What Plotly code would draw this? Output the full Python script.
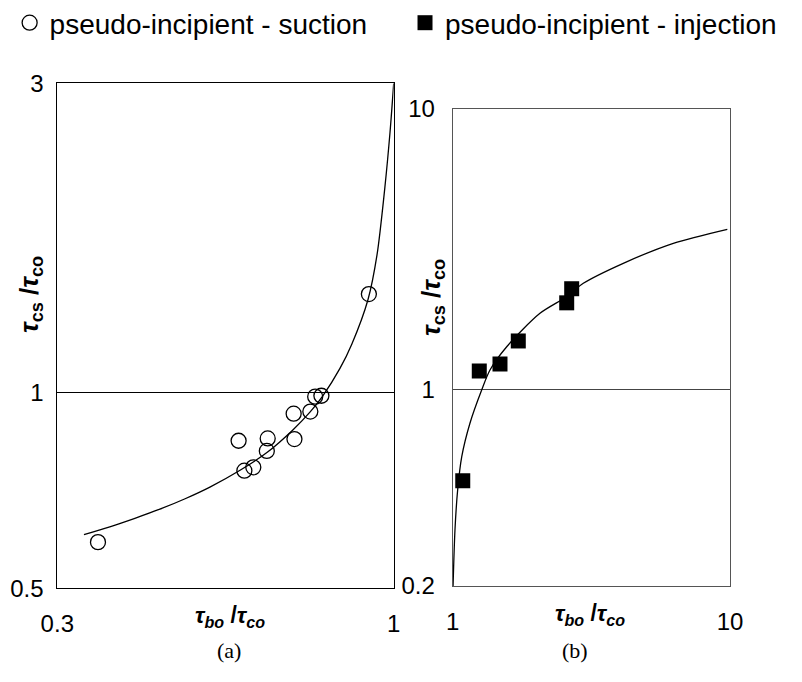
import plotly.graph_objects as go

# Panel (a): suction data
suction_x = [0.347, 0.574, 0.586, 0.605, 0.635, 0.637, 0.699, 0.701, 0.742, 0.755, 0.772, 0.915]
suction_y = [0.589, 0.844, 0.759, 0.768, 0.814, 0.851, 0.929, 0.849, 0.936, 0.987, 0.990, 1.42]
# Panel (a): fitted curve
curve_a_x = [0.330, 0.362, 0.396, 0.433, 0.474, 0.518, 0.577, 0.636, 0.697, 0.741, 0.776,
             0.825, 0.861, 0.912, 0.942, 0.969, 0.987, 1.0]
curve_a_y = [0.605, 0.622, 0.641, 0.662, 0.687, 0.716, 0.760, 0.810, 0.877, 0.934, 0.990,
             1.091, 1.190, 1.392, 1.632, 2.076, 2.524, 3.0]

# Panel (b): injection data
injection_x = [1.087, 1.247, 1.481, 1.724, 2.577, 2.686]
injection_y = [0.474, 1.166, 1.235, 1.492, 2.04, 2.29]
# Panel (b): fitted curve
curve_b_x = [1.003, 1.019, 1.042, 1.078, 1.154, 1.272, 1.363, 1.566, 2.064, 2.577, 2.958, 4.122, 6.246, 9.78]
curve_b_y = [0.2, 0.3165, 0.4394, 0.578, 0.760, 0.998, 1.176, 1.423, 1.872, 2.145, 2.394, 2.821, 3.324, 3.729]

a_xticks = [0.3, 1]
a_yticks = [0.5, 1, 3]
b_xticks = [1, 10]
b_yticks = [0.2, 1, 10]

W, H = 802, 682
fig = go.Figure()

fig.add_trace(go.Scatter(x=curve_a_x, y=curve_a_y, mode="lines", line=dict(color="black", width=1.3, shape="spline", smoothing=0.8),
                         showlegend=False, xaxis="x", yaxis="y", hoverinfo="skip"))
fig.add_trace(go.Scatter(x=suction_x, y=suction_y, mode="markers", name="pseudo-incipient - suction",
                         marker=dict(symbol="circle-open", size=15, color="black", line=dict(width=1.3)),
                         xaxis="x", yaxis="y", legend="legend"))
fig.add_trace(go.Scatter(x=curve_b_x, y=curve_b_y, mode="lines", line=dict(color="black", width=1.3, shape="spline", smoothing=0.8),
                         showlegend=False, xaxis="x2", yaxis="y2", hoverinfo="skip"))
fig.add_trace(go.Scatter(x=injection_x, y=injection_y, mode="markers", name="pseudo-incipient - injection",
                         marker=dict(symbol="square", size=15, color="black"),
                         xaxis="x2", yaxis="y2", legend="legend2"))

tickfont = dict(family="Liberation Sans, Arial, sans-serif", size=24, color="black")
common = dict(type="log", showline=True, mirror=True, ticks="", zeroline=False, tickfont=tickfont)

legfont = dict(family="Liberation Sans, Arial, sans-serif", size=28, color="black")
fig.update_layout(
    width=W, height=H,
    margin=dict(l=0, r=0, t=0, b=0, autoexpand=False),
    paper_bgcolor="white", plot_bgcolor="white",
    xaxis=dict(domain=[57.3 / W, 393.7 / W], range=[-0.5229, 0], tickvals=a_xticks, ticktext=["0.3", "1"],
               showgrid=False, linecolor="black", linewidth=1, anchor="y", ticklabelstandoff=14, **common),
    yaxis=dict(domain=[1 - 588.3 / H, 1 - 83.3 / H], range=[-0.30103, 0.47712], tickvals=a_yticks, ticktext=["0.5", "1", "3"],
               showgrid=True, gridcolor="black", gridwidth=1, linecolor="black", linewidth=1, anchor="x",
               ticklabelstandoff=8, **common),
    xaxis2=dict(domain=[452.7 / W, 730 / W], range=[0, 1], tickvals=b_xticks, ticktext=["1", "10"],
                showgrid=False, linecolor="#555", linewidth=1, anchor="y2", ticklabelstandoff=14, **common),
    yaxis2=dict(domain=[1 - 586 / H, 1 - 109 / H], range=[-0.69897, 1], tickvals=b_yticks, ticktext=["0.2", "1", "10"],
                showgrid=True, gridcolor="#444", gridwidth=1, linecolor="#555", linewidth=1, anchor="x2",
                ticklabelstandoff=12, **common),
    legend=dict(x=0.012, y=1 - 23 / H, xanchor="left", yanchor="middle", orientation="h",
                font=legfont, bgcolor="rgba(0,0,0,0)", itemwidth=30),
    legend2=dict(x=0.505, y=1 - 23 / H, xanchor="left", yanchor="middle", orientation="h",
                 font=legfont, bgcolor="rgba(0,0,0,0)", itemwidth=30),
    showlegend=True,
)

ytitle_font = dict(family="Liberation Sans, Arial, sans-serif", size=26, color="black")
xtitle_font = dict(family="Liberation Sans, Arial, sans-serif", size=23, color="black")
yt = "<b><i>τ</i><sub>cs</sub> /<i>τ</i><sub>co</sub></b>"
xt = "<b><i>τ<sub>bo</sub></i> /<i>τ<sub>co</sub></i></b>"
ann = [
    dict(text=yt, x=30 / W, y=1 - 295 / H, textangle=-90, font=ytitle_font),
    dict(text=yt, x=432 / W, y=1 - 298 / H, textangle=-90, font=ytitle_font),
    dict(text=xt, x=230 / W, y=1 - 616 / H, font=xtitle_font),
    dict(text=xt, x=590 / W, y=1 - 614 / H, font=xtitle_font),
]
for a in ann:
    fig.add_annotation(xref="paper", yref="paper", showarrow=False, xanchor="center", yanchor="middle", **a)

cap_font = dict(family="Liberation Serif, Times New Roman, serif", size=22, color="black")
fig.add_annotation(text="(a)", x=215 / W, y=1 - 665 / H, xref="paper", yref="paper", showarrow=False, font=cap_font)
fig.add_annotation(text="(b)", x=590 / W, y=1 - 665 / H, xref="paper", yref="paper", showarrow=False, font=cap_font)

fig.write_html("out.html")
